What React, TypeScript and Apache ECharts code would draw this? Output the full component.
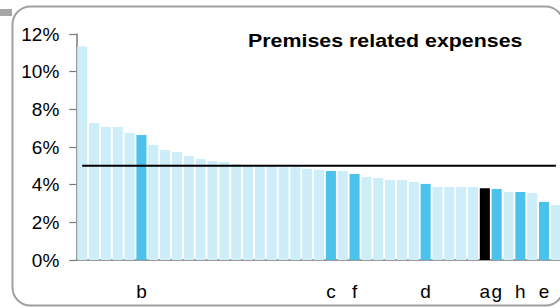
import React, { useEffect, useRef } from "react";
import * as echarts from "echarts";

const labels = [
  "", "", "", "", "", "b", "", "", "", "", "", "", "", "", "", "", "", "", "", "", "",
  "c", "", "f", "", "", "", "", "", "d", "", "", "", "", "a", "g", "", "h", "", "e", "",
];
const values = [
  11.33, 7.28, 7.06, 7.06, 6.74, 6.64, 6.11, 5.84, 5.74, 5.52, 5.36, 5.26, 5.2, 5.1,
  4.98, 4.97, 4.96, 4.93, 4.92, 4.85, 4.79, 4.73, 4.73, 4.57, 4.41, 4.35, 4.25, 4.25,
  4.14, 4.04, 3.88, 3.88, 3.88, 3.88, 3.81, 3.77, 3.61, 3.61, 3.56, 3.08, 2.92,
];
// 0 = other, 1 = peer highlighted, 2 = subject bank
const kinds = [
  0, 0, 0, 0, 0, 1, 0, 0, 0, 0, 0, 0, 0, 0, 0, 0, 0, 0, 0, 0, 0,
  1, 0, 1, 0, 0, 0, 0, 0, 1, 0, 0, 0, 0, 2, 1, 0, 1, 0, 1, 0,
];
const average = 5;
const yTicks = { min: 0, max: 12, interval: 2 };
const title = "Premises related expenses";

const kindColors = ["#cdedf9", "#4ac2ec", "#000000"];
const FONT = "'Liberation Sans', Arial, sans-serif";

export default function App() {
  const ref = useRef<HTMLDivElement>(null);
  useEffect(() => {
    if (!ref.current) return;
    const chart = echarts.init(ref.current, null, { renderer: "svg" });
    const categories = labels.map((l, i) => `k${i}`);
    chart.setOption({
      animation: false,
      grid: { left: 76.3, top: 34, right: 18.2, bottom: 48, containLabel: false },
      xAxis: {
        type: "category",
        data: categories,
        axisLine: { show: true, lineStyle: { color: "#7a7a7a", width: 1.5 } },
        axisTick: { show: false },
        axisLabel: {
          interval: 0,
          margin: 22,
          fontFamily: FONT,
          fontSize: 19,
          color: "#000",
          formatter: (_v: string, i: number) => labels[i],
        },
        splitLine: { show: false },
      },
      yAxis: {
        type: "value",
        min: yTicks.min,
        max: yTicks.max,
        interval: yTicks.interval,
        axisLine: { show: true, lineStyle: { color: "#7a7a7a", width: 1.5 } },
        axisTick: { show: true, length: 7, lineStyle: { color: "#7a7a7a", width: 1.2 } },
        axisLabel: {
          margin: 17,
          fontFamily: FONT,
          fontSize: 19,
          color: "#000",
          formatter: "{value}%",
        },
        splitLine: { show: false },
      },
      series: [
        {
          type: "bar",
          barCategoryGap: "15%",
          data: values.map((v, i) => ({
            value: v,
            itemStyle: { color: kindColors[kinds[i]] },
          })),
          z: 2,
        },
        {
          type: "line",
          data: categories.map(() => average),
          symbol: "none",
          lineStyle: { color: "#000", width: 2 },
          z: 5,
        },
      ],
      graphic: [
        {
          type: "rect",
          shape: { x: 12.5, y: 6.5, width: 551, height: 299, r: 18 },
          style: { fill: "none", stroke: "#a0a0a0", lineWidth: 2 },
          z: 0,
        },
        {
          type: "rect",
          shape: { x: 0, y: 9, width: 12, height: 7 },
          style: { fill: "#a6a6a6" },
        },
        {
          type: "text",
          x: 248,
          y: 40,
          scaleX: 1.125,
          style: {
            text: title,
            fontFamily: FONT,
            fontSize: 19,
            fontWeight: "bold",
            fill: "#000",
            textVerticalAlign: "middle",
            verticalAlign: "middle",
          },
          z: 10,
        },
      ],
    });
    return () => chart.dispose();
  }, []);
  return (
    <div
      ref={ref}
      style={{ position: "fixed", left: 0, top: 0, width: 580, height: 308, background: "#fff" }}
    />
  );
}
